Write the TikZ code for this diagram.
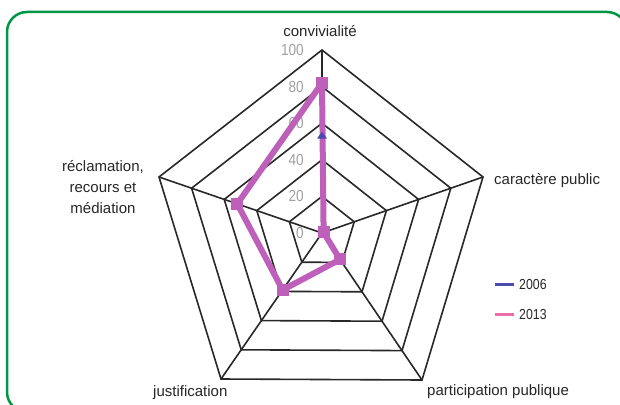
\documentclass[tikz,border=0pt]{standalone}
\usepackage{fontspec}
\setmainfont{Liberation Sans}
\newfontfamily\narrowfont{Liberation Sans}[FakeStretch=0.85]
\usetikzlibrary{calc,shapes.geometric}
\definecolor{framec}{RGB}{0,150,70}
\definecolor{gridc}{RGB}{40,40,40}
\definecolor{c2013}{RGB}{190,95,185}
\definecolor{leg2013}{RGB}{235,110,170}
\definecolor{c2006}{RGB}{75,75,175}
\definecolor{tickc}{RGB}{160,160,160}
\begin{document}
\begin{tikzpicture}[x=1pt,y=-1pt,
  axislabel/.style={font=\fontsize{15}{21}\selectfont, inner sep=0pt, text=black!85},
  ticklabel/.style={font=\narrowfont\fontsize{16}{18}\selectfont, inner sep=0pt, text=tickc, anchor=east},
  legendlabel/.style={font=\narrowfont\fontsize{14.5}{16}\selectfont, inner sep=0pt, text=black!85, anchor=base west},
  ringline/.style={draw=gridc, line width=1.6pt, line join=miter},
  series/.style={draw=c2013, line width=6pt, line join=round},
  sqmarker/.style={fill=c2013, rectangle, minimum size=12pt, inner sep=0pt},
  trimarker/.style={fill=c2006, isosceles triangle, isosceles triangle apex angle=70, shape border rotate=90, minimum height=7pt, minimum width=9pt, inner sep=0pt},
  framebox/.style={draw=framec, line width=2.5pt, rounded corners=20pt}
]
\useasboundingbox (0,0) rectangle (620,404);
\clip (0,0) rectangle (620,404);
\draw[framebox] (7,12) rectangle (627,412);

% axes
\coordinate (C) at (322,233);
\coordinate (T) at (322,50);
\coordinate (R) at (483,177);
\coordinate (BR) at (422,380);
\coordinate (BL) at (221,379);
\coordinate (L) at (159,177);

% rings
\foreach \k in {0.2,0.4,0.6,0.8,1.0}{
  \draw[ringline] ($(C)!\k!(T)$) -- ($(C)!\k!(R)$) -- ($(C)!\k!(BR)$) -- ($(C)!\k!(BL)$) -- ($(C)!\k!(L)$) -- cycle;
}
% spokes
\foreach \p in {T,R,BR,BL,L}{
  \draw[ringline] (C) -- (\p);
}

% tick labels
\node[ticklabel] (t0) at (304,233) {0};
\node[ticklabel] (t20) at (304,196) {20};
\node[ticklabel] (t40) at (304,160) {40};
\node[ticklabel] (t60) at (304,123) {60};
\node[ticklabel] (t80) at (304,87) {80};
\node[ticklabel] (t100) at (304,50) {100};

% axis labels
\node[axislabel, anchor=base] (conv) at (320,37) {convivialité};
\node[axislabel, anchor=base west] (carac) at (494,184) {caractère public};
\node[axislabel, anchor=base west] (parti) at (427,395) {participation publique};
\node[axislabel, anchor=base west] (justi) at (153,396) {justification};
\node[axislabel, anchor=north, align=center] (recla) at (103,160) {réclamation,\\recours et\\médiation};

% 2013 series
\coordinate (d1) at ($(C)!0.82!(T)$);
\coordinate (d2) at ($(C)!0.01!(R)$);
\coordinate (d3) at ($(C)!0.18!(BR)$);
\coordinate (d4) at ($(C)!0.39!(BL)$);
\coordinate (d5) at ($(C)!0.52!(L)$);
\draw[series] (d1) -- (d2) -- (d3) -- (d4) -- (d5) -- cycle;
\foreach \d in {d1,d2,d3,d4,d5}{
  \node[sqmarker] at (\d) {};
}

% 2006 series (visible marker)
\node[trimarker] (b1) at ($(C)!0.53!(T)$) {};

% legend
\coordinate (l1a) at (495,284);
\coordinate (l1b) at (514,284);
\coordinate (l2a) at (495,314);
\coordinate (l2b) at (514,314);
\draw[c2006, line width=3pt] (l1a) -- (l1b);
\draw[leg2013, line width=3pt] (l2a) -- (l2b);
\node[legendlabel] (lg1) at (519,289) {2006};
\node[legendlabel] (lg2) at (519,319) {2013};
\end{tikzpicture}
\end{document}
